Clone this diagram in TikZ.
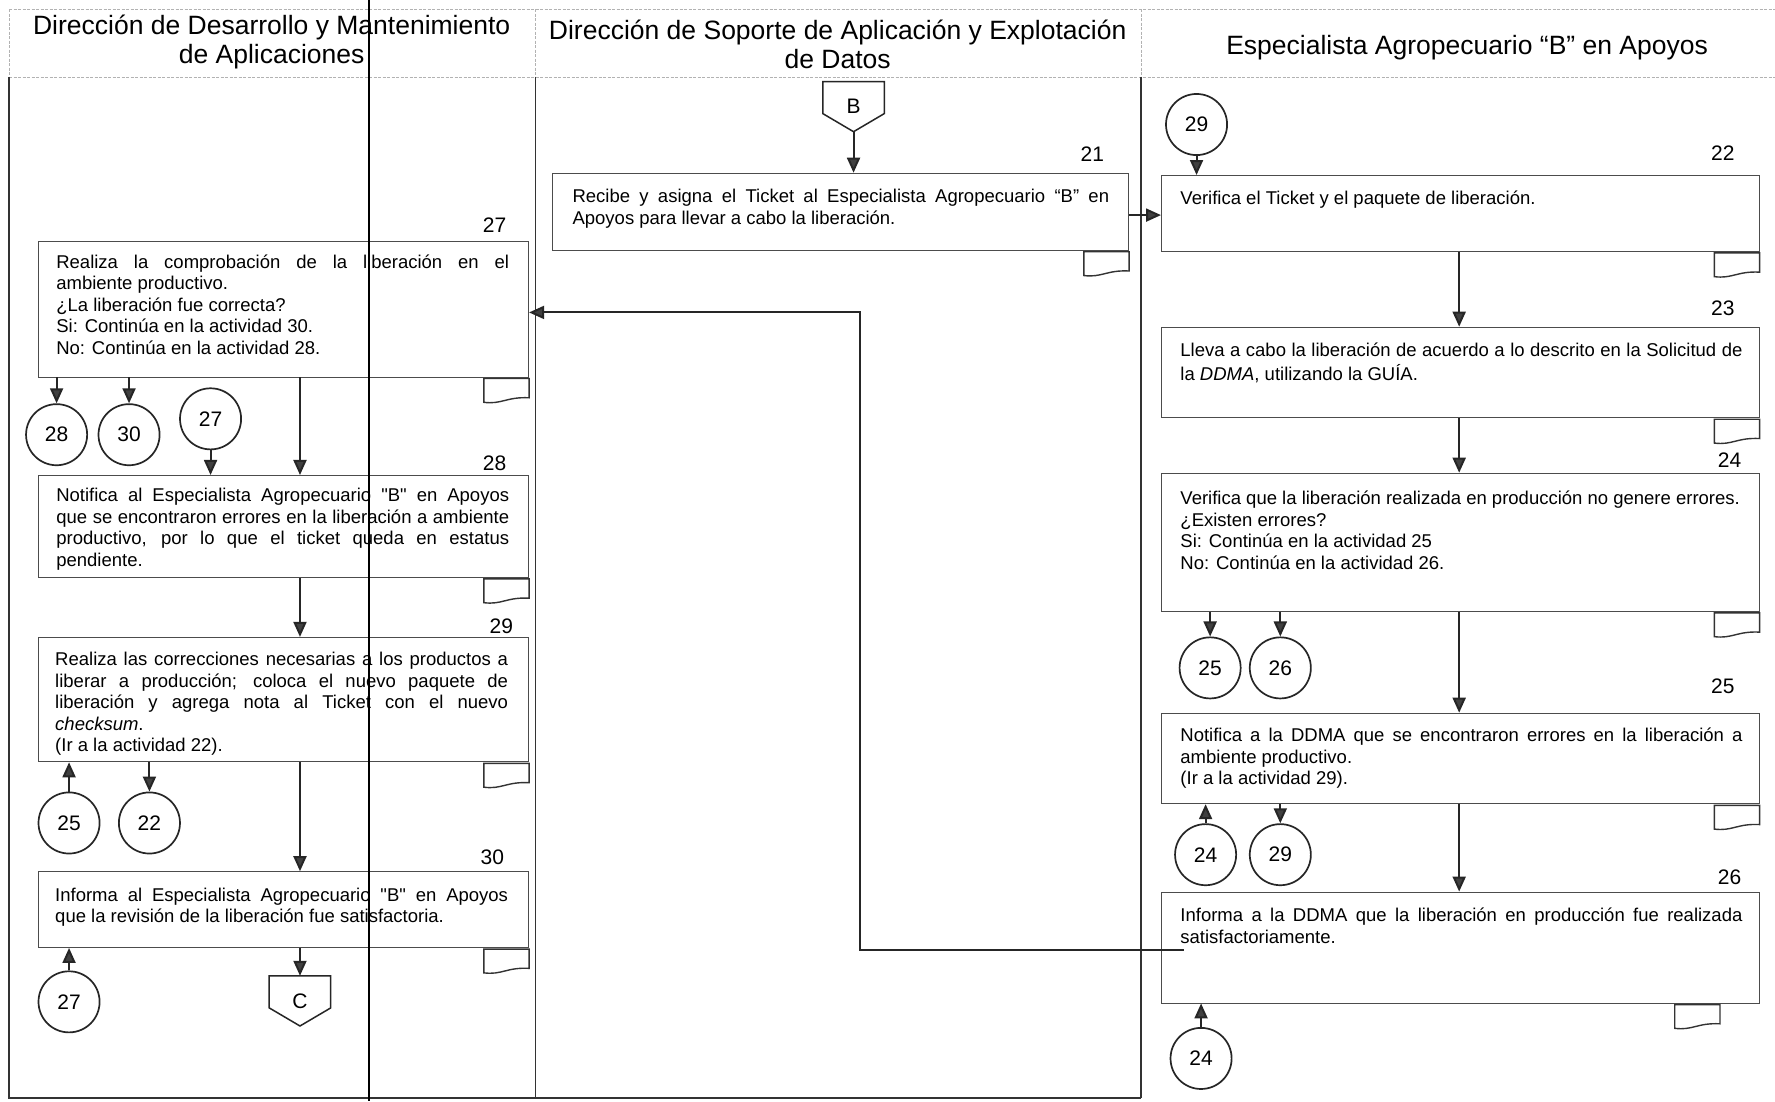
\documentclass[tikz,border=0pt]{standalone}
\usepackage{fontspec}
\setmainfont{Liberation Sans}
\usetikzlibrary{arrows.meta,calc,fit}

% straight double quotes, without the TeX quote mapping
\newcommand\sq[1]{{\addfontfeatures{Ligatures=TeXOff}"#1"}}

% small "document" mark hung under the lower right corner of an activity box
\newcommand\docmark[2][0]{%
  \begin{scope}[shift={($(#2.south east)+(#1,1)$)}]
    \draw[docline] (0,0) -- (-40,0) -- (-40,21) .. controls (-24,23) and (-20,16) .. (0,17) -- cycle;
  \end{scope}}

\begin{document}
\begin{tikzpicture}[x=1.132pt,y=-1.132pt,
  lane/.style={draw=black!80,line width=1.3pt},
  hdr/.style={draw=black!30,line width=0.8pt,dash pattern=on 3pt off 1.5pt},
  hdtext/.style={align=center,inner sep=0pt,text=black,font=\fontsize{26.5}{29.4}\selectfont},
  actbox/.style={draw=black!70,line width=0.9pt,inner sep=0pt},
  txt/.style={anchor=north west,inner sep=0pt,align=justify,text=black,font=\fontsize{18.5}{21.5}\selectfont},
  txtA/.style={txt,text width=452.8pt},
  txtB/.style={txt,text width=536.6pt},
  txtC/.style={txt,text width=562pt},
  num/.style={anchor=east,inner sep=0pt,text=black,font=\fontsize{21}{24}\selectfont},
  conn/.style={circle,draw=black!85,line width=1.7pt,minimum size=61.1pt,inner sep=0pt,text=black,font=\fontsize{21}{24}\selectfont},
  offp/.style={minimum width=61.1pt,minimum height=49.8pt,inner sep=0pt,text=black,font=\fontsize{21}{24}\selectfont},
  offline/.style={draw=black!85,line width=1.5pt,line join=miter},
  docline/.style={draw=black!80,line width=1.4pt},
  flow/.style={draw=black!85,line width=2pt,-{Triangle[length=15pt,width=13pt,fill=black!75]}}
]
\fill[white] (0,0) rectangle (1568,973);
\useasboundingbox (0,0) rectangle (1568,973);

% ---------- lane headers ----------
\draw[hdr] (8,8) -- (1568,8);
\draw[hdr] (8,68) -- (1568,68);
\draw[hdr] (8,8) -- (8,68);
\draw[hdr] (473,8) -- (473,68);
\draw[hdr] (1008,8) -- (1008,68);
\node[hdtext] (h1) at (240,37) {Dirección de Desarrollo y Mantenimiento\\de Aplicaciones};
\node[hdtext] (h2) at (740,39) {Dirección de Soporte de Aplicación y Explotación\\de Datos};
\node[hdtext] (h3) at (1296,42) {Especialista Agropecuario “B” en Apoyos};

% ---------- lane borders ----------
\draw[lane] (8,68) -- (8,970) -- (1008,970);
\draw[lane] (473,68) -- (473,970);
\draw[lane] (1008,68) -- (1008,970);

% ---------- activity boxes ----------
\node[actbox,fit={(488,153) (997,221)}] (b21) {};
\node[actbox,fit={(1026,155) (1554,222)}] (b22) {};
\node[actbox,fit={(1026,289) (1554,369)}] (b23) {};
\node[actbox,fit={(1026,418) (1554,540)}] (b24) {};
\node[actbox,fit={(1026,630) (1554,710)}] (b25) {};
\node[actbox,fit={(1026,788) (1554,886)}] (b26) {};
\node[actbox,fit={(34,213) (467,333)}] (b27) {};
\node[actbox,fit={(34,420) (467,510)}] (b28) {};
\node[actbox,fit={(34,563) (467,673)}] (b29) {};
\node[actbox,fit={(34,770) (467,837)}] (b30) {};

% activity texts
\node[txtB] (t21) at ($(b21.north west)+(18,13)$) {\strut Recibe y asigna el Ticket al Especialista Agropecuario “B” en\linebreak Apoyos para llevar a cabo la liberación.};
\node[txtC] (t22) at ($(b22.north west)+(17,13)$) {\strut Verifica el Ticket y el paquete de liberación.};
\node[txtC] (t23) at ($(b23.north west)+(17,13)$) {\strut Lleva a cabo la liberación de acuerdo a lo descrito en la Solicitud de\linebreak la \textit{DDMA}, utilizando la GUÍA.};
\node[txtC] (t24) at ($(b24.north west)+(17,15)$) {\strut Verifica que la liberación realizada en producción no genere errores.\\ ¿Existen errores?\\ Si: Continúa en la actividad 25\\ No: Continúa en la actividad 26.};
\node[txtC] (t25) at ($(b25.north west)+(17,12)$) {\strut Notifica a la DDMA que se encontraron errores en la liberación a\linebreak ambiente productivo.\\ (Ir a la actividad 29).};
\node[txtC] (t26) at ($(b26.north west)+(17,13)$) {\strut Informa a la DDMA que la liberación en producción fue realizada\linebreak satisfactoriamente.};
\node[txtA] (t27) at ($(b27.north west)+(16,11)$) {\strut Realiza la comprobación de la liberación en el\linebreak ambiente productivo.\\ ¿La liberación fue correcta?\\ Si: Continúa en la actividad 30.\\ No: Continúa en la actividad 28.};
\node[txtA] (t28) at ($(b28.north west)+(16,10)$) {\strut Notifica al Especialista Agropecuario \sq{B} en Apoyos\linebreak que se encontraron errores en la liberación a ambiente\linebreak productivo, por lo que el ticket queda en estatus\linebreak pendiente.};
\node[txtA] (t29) at ($(b29.north west)+(15,12)$) {\strut Realiza las correcciones necesarias a los productos a\linebreak liberar a producción; coloca el nuevo paquete de\linebreak liberación y agrega nota al Ticket con el nuevo\linebreak \textit{checksum}.\\ (Ir a la actividad 22).};
\node[txtA] (t30) at ($(b30.north west)+(15,13)$) {\strut Informa al Especialista Agropecuario \sq{B} en Apoyos\linebreak que la revisión de la liberación fue satisfactoria.};

% activity numbers
\node[num] (n21) at ($(b21.north east)+(-22,-16)$) {21};
\node[num] (n22) at ($(b22.north east)+(-22,-19)$) {22};
\node[num] (n23) at ($(b23.north east)+(-22,-16)$) {23};
\node[num] (n24) at ($(b24.north east)+(-16,-11)$) {24};
\node[num] (n25) at ($(b25.north east)+(-22,-23)$) {25};
\node[num] (n26) at ($(b26.north east)+(-16,-13)$) {26};
\node[num] (n27) at ($(b27.north east)+(-20,-14)$) {27};
\node[num] (n28) at ($(b28.north east)+(-20,-10)$) {28};
\node[num] (n29) at ($(b29.north east)+(-14,-9)$) {29};
\node[num] (n30) at ($(b30.north east)+(-22,-12)$) {30};

% document marks
\docmark{b21}
\docmark{b22}
\docmark{b23}
\docmark{b24}
\docmark{b25}
\docmark[-35]{b26}
\docmark{b27}
\docmark{b28}
\docmark{b29}
\docmark{b30}

% ---------- on-page connectors ----------
\node[conn] (c29a) at (1057,110) {29};
\node[conn] (c25b) at (1069,590) {25};
\node[conn] (c26)  at (1131,590) {26};
\node[conn] (c24a) at (1065,755) {24};
\node[conn] (c29b) at (1131,755) {29};
\node[conn] (c24b) at (1061,935) {24};
\node[conn] (c28)  at (50,384) {28};
\node[conn] (c30)  at (114,384) {30};
\node[conn] (c27a) at (186,370) {27};
\node[conn] (c25)  at (61,727) {25};
\node[conn] (c22)  at (132,727) {22};
\node[conn] (c27b) at (61,885) {27};

% ---------- off-page connectors ----------
\node[offp,anchor=north] (pB) at (754,72) {B};
\draw[offline] (pB.north west) -- (pB.north east) -- ($(pB.south east)+(0,-16)$) -- (pB.south) -- ($(pB.south west)+(0,-16)$) -- cycle;
\node[offp,anchor=north] (pC) at (265,862) {C};
\draw[offline] (pC.north west) -- (pC.north east) -- ($(pC.south east)+(0,-16)$) -- (pC.south) -- ($(pC.south west)+(0,-16)$) -- cycle;

% ---------- flow ----------
\coordinate (ax1) at (265,0);
\coordinate (ax3) at (1289,0);
\coordinate (jog) at (760,276);

\draw[flow] (pB.south) -- (pB.south |- b21.north);
\draw[flow] ($(b21.east)+(0,3)$) -- ($(b21.east -| b22.west)+(0,3)$);
\draw[flow] (c29a.south) -- (c29a.south |- b22.north);
\draw[flow] (b22.south -| ax3) -- (b23.north -| ax3);
\draw[flow] (b23.south -| ax3) -- (b24.north -| ax3);
\draw[flow] (b24.south -| ax3) -- (b25.north -| ax3);
\draw[flow] (b25.south -| ax3) -- (b26.north -| ax3);
\draw[flow] (b24.south -| c25b) -- (c25b.north);
\draw[flow] (b24.south -| c26) -- (c26.north);
\draw[flow] (c24a.north) -- (c24a.north |- b25.south);
\draw[flow] (b25.south -| c29b) -- (c29b.north);
\draw[flow] (c24b.north) -- (c24b.north |- b26.south);
\draw[flow] ($(b26.west)+(20,2)$) -| (jog) -- (jog -| b27.east);

\draw[flow] (b27.south -| ax1) -- (b28.north -| ax1);
\draw[flow] (b28.south -| ax1) -- (b29.north -| ax1);
\draw[flow] (b29.south -| ax1) -- (b30.north -| ax1);
\draw[flow] (b30.south -| ax1) -- (pC.north);
\draw[flow] (b27.south -| c28) -- (c28.north);
\draw[flow] (b27.south -| c30) -- (c30.north);
\draw[flow] (c27a.south) -- (c27a.south |- b28.north);
\draw[flow] (c25.north) -- (c25.north |- b29.south);
\draw[flow] (b29.south -| c22) -- (c22.north);
\draw[flow] (c27b.north) -- (c27b.north |- b30.south);

% heavy rule running down the whole sheet
\draw[black,line width=2.8pt] (326,0) -- (326,973);
\end{tikzpicture}
\end{document}
